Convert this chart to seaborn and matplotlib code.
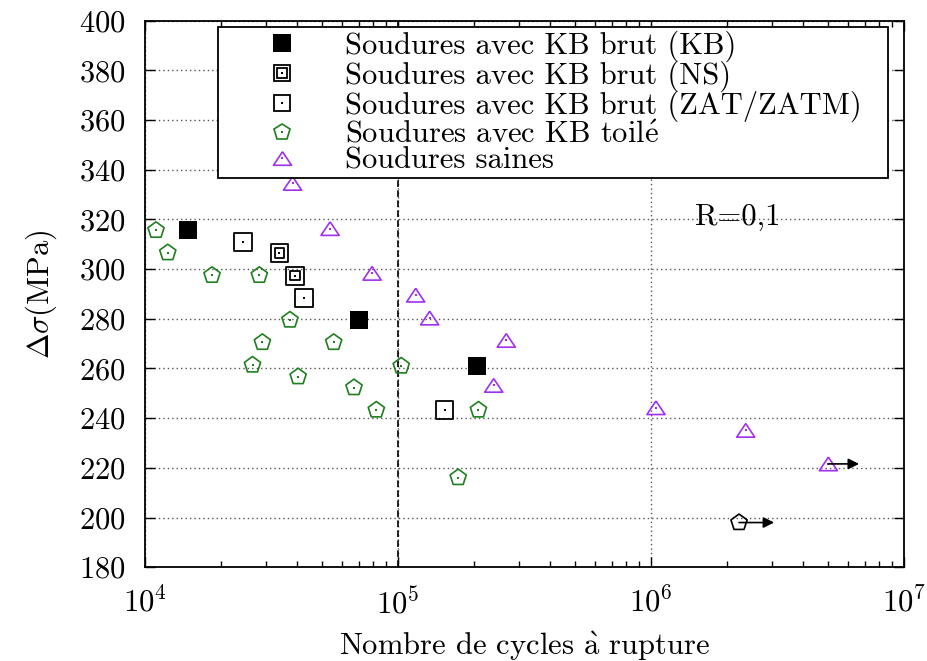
import seaborn as sns
import matplotlib.pyplot as plt
from matplotlib.lines import Line2D
from matplotlib.legend_handler import HandlerTuple
from matplotlib.ticker import LogLocator, MultipleLocator, NullFormatter

plt.rcParams['font.family'] = ['cmr10', 'DejaVu Serif']
plt.rcParams['mathtext.fontset'] = 'cm'
plt.rcParams['axes.formatter.use_mathtext'] = True
plt.rcParams['axes.unicode_minus'] = False

# Soudures avec KB brut (KB)
kb_n = [1.48e4, 7.01e4, 2.05e5]
kb_s = [315.6, 279.5, 261.1]
# Soudures avec KB brut (NS)
ns_n = [3.40e4, 3.92e4]
ns_s = [306.5, 297.3]
# Soudures avec KB brut (ZAT/ZATM)
zat_n = [2.44e4, 4.25e4, 1.53e5]
zat_s = [311.0, 288.4, 243.3]
# Soudures avec KB toile
toile_n = [1.105e4, 1.23e4, 1.84e4, 2.83e4, 3.74e4, 2.91e4, 5.57e4,
           2.66e4, 4.03e4, 6.70e4, 8.21e4, 1.03e5, 2.08e5, 1.73e5]
toile_s = [315.6, 306.6, 297.5, 297.5, 279.5, 270.5, 270.5,
           261.4, 256.7, 252.3, 243.3, 261.0, 243.3, 216.1]
# Soudures saines
saine_n = [3.83e4, 5.39e4, 7.90e4, 1.175e5, 1.334e5, 2.68e5, 2.39e5,
           1.047e6, 2.37e6, 5.03e6]
saine_s = [334.5, 316.3, 298.3, 289.5, 280.3, 271.3, 253.2,
           244.2, 235.1, 221.6]
# non rompue (pentagone noir)
nr_n = [2.23e6]
nr_s = [198.0]
# fleches (eprouvettes non rompues)
arrow_n0 = [2.23e6, 5.03e6]
arrow_n1 = [3.07e6, 6.65e6]
arrow_s = [198.0, 221.6]

labels = ['Soudures avec KB brut (KB)',
          'Soudures avec KB brut (NS)',
          'Soudures avec KB brut (ZAT/ZATM)',
          r'Soudures avec KB toil$\mathrm{\acute{e}}$',
          'Soudures saines']

green = '#1f7f1f'
purple = '#a030f0'
tri = [(0, 0.75), (-1, -0.75), (1, -0.75), (0, 0.75)]

fig, ax = plt.subplots(figsize=(9.28, 6.61), dpi=100)
fig.subplots_adjust(left=0.1563, right=0.974, bottom=0.1418, top=0.9688)

sns.scatterplot(x=kb_n, y=kb_s, marker='s', s=165, color='black',
                edgecolor='black', linewidth=0, ax=ax, zorder=4)
sns.scatterplot(x=ns_n, y=ns_s, marker='s', s=160, color='black',
                facecolor='none', edgecolor='black', linewidth=1.3, ax=ax, zorder=4)
sns.scatterplot(x=ns_n, y=ns_s, marker='s', s=45, color='black',
                facecolor='none', edgecolor='black', linewidth=1.3, ax=ax, zorder=4)
sns.scatterplot(x=zat_n, y=zat_s, marker='s', s=160, color='black',
                facecolor='none', edgecolor='black', linewidth=1.3, ax=ax, zorder=4)
sns.scatterplot(x=toile_n, y=toile_s, marker='p', s=150, color=green,
                facecolor='none', edgecolor=green, linewidth=1.2, ax=ax, zorder=4)
sns.scatterplot(x=saine_n, y=saine_s, marker=tri, s=170, color=purple,
                facecolor='none', edgecolor=purple, linewidth=1.2, ax=ax, zorder=4)
sns.scatterplot(x=nr_n, y=nr_s, marker='p', s=150, color='black',
                facecolor='none', edgecolor='black', linewidth=1.2, ax=ax, zorder=4)

# petits points au centre des symboles
sns.scatterplot(x=ns_n + zat_n, y=ns_s + zat_s, marker='s', s=2.5,
                color='black', linewidth=0, ax=ax, zorder=5)
sns.scatterplot(x=toile_n, y=toile_s, marker='s', s=2.5,
                color=green, linewidth=0, ax=ax, zorder=5)
sns.scatterplot(x=saine_n, y=saine_s, marker='s', s=2.5,
                color=purple, linewidth=0, ax=ax, zorder=5)

for n0, n1, s in zip(arrow_n0, arrow_n1, arrow_s):
    ax.annotate('', xy=(n1, s), xytext=(n0, s),
                arrowprops=dict(arrowstyle='-|>', color='black', lw=1.2,
                                mutation_scale=16, shrinkA=0, shrinkB=0),
                zorder=6)

ax.set_xscale('log')
ax.set_xlim(1e4, 1e7)
ax.set_ylim(180, 400)
ax.yaxis.set_major_locator(MultipleLocator(20))
ax.xaxis.set_major_locator(LogLocator(base=10, numticks=10))
ax.xaxis.set_minor_locator(LogLocator(base=10, subs=range(2, 10), numticks=30))
ax.xaxis.set_minor_formatter(NullFormatter())

ax.grid(True, which='major', ls=':', color='#555555', lw=1.0, dashes=(1, 2.2))
ax.set_axisbelow(True)
ax.axvline(1e5, color='black', lw=1.2, ls='--', dashes=(4, 2), zorder=2)

ax.tick_params(which='both', direction='in', top=True, right=True,
               labelsize=22, pad=14)
ax.tick_params(which='major', length=7, width=1)
ax.tick_params(which='minor', length=4, width=1)
for sp in ax.spines.values():
    sp.set_linewidth(1.3)

ax.set_xlabel('Nombre de cycles $\\mathrm{\\grave{a}}$ rupture', fontsize=22, labelpad=7)
ax.set_ylabel(r'$\Delta\sigma$(MPa)', fontsize=22, labelpad=14)

ax.text(2.2e6, 321, 'R=0,1', fontsize=22, ha='center', va='center')

h_kb = Line2D([], [], ls='none', marker='s', ms=12.5, mfc='black', mec='black', mew=0)
h_ns = (Line2D([], [], ls='none', marker='s', ms=12, mfc='none', mec='black', mew=1.3),
        Line2D([], [], ls='none', marker='s', ms=6.5, mfc='none', mec='black', mew=1.3),
        Line2D([], [], ls='none', marker='s', ms=1.6, mfc='black', mew=0))
h_zat = (Line2D([], [], ls='none', marker='s', ms=12, mfc='none', mec='black', mew=1.3),
         Line2D([], [], ls='none', marker='s', ms=1.6, mfc='black', mew=0))
h_toile = (Line2D([], [], ls='none', marker='p', ms=12.2, mfc='none', mec=green, mew=1.2),
           Line2D([], [], ls='none', marker='s', ms=1.6, mfc=green, mew=0))
h_saine = (Line2D([], [], ls='none', marker=tri, ms=13, mfc='none', mec=purple, mew=1.2),
           Line2D([], [], ls='none', marker='s', ms=1.6, mfc=purple, mew=0))

leg = ax.legend([h_kb, h_ns, h_zat, h_toile, h_saine], labels,
                handler_map={tuple: HandlerTuple(ndivide=1, pad=0)},
                loc='upper left', bbox_to_anchor=(0.0962, 0.721, 0.883, 0.267),
                mode='expand', fontsize=22, frameon=True, fancybox=False,
                framealpha=1, edgecolor='black', borderpad=0.1,
                labelspacing=-0.04, handlelength=4.0, handletextpad=0.05,
                borderaxespad=0)
leg.get_frame().set_linewidth(1.3)

plt.savefig('out.png', dpi=100)
